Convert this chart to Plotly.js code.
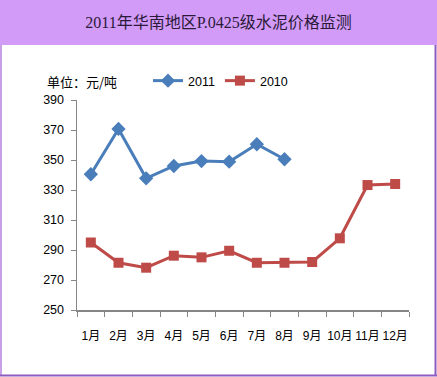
<!DOCTYPE html>
<html><head><meta charset="utf-8">
<script src="https://cdn.plot.ly/plotly-3.0.1.min.js"></script>
<style>html,body{margin:0;padding:0;background:#fff}#c{width:437px;height:377px}</style>
</head><body><div id="c"></div>
<script>
const months = ['1月','2月','3月','4月','5月','6月','7月','8月','9月','10月','11月','12月'];
const values2011 = [340.5, 370.7, 337.8, 346, 349.3, 348.9, 360.5, 350.5];
const values2010 = [295, 281.5, 278.2, 286.2, 285.1, 289.5, 281.5, 281.5, 282, 297.8, 333.3, 334];
const yTicks = [250, 270, 290, 310, 330, 350, 370, 390];

const W = 437, H = 377, L = 77, R = 28, T = 100, B = 67;
const pw = W - L - R, ph = H - T - B;
const px = x => (x - L) / pw;
const py = y => (H - B - y) / ph;

const traces = [
  {x: months.slice(0, values2011.length), y: values2011, name: '2011', type: 'scatter', mode: 'lines+markers',
   line: {color: '#4A7EBB', width: 3}, marker: {symbol: 'diamond', size: 11, color: '#4A7EBB'}},
  {x: months, y: values2010, name: '2010', type: 'scatter', mode: 'lines+markers',
   line: {color: '#BE4B48', width: 3}, marker: {symbol: 'square', size: 10, color: '#BE4B48'}}
];

const layout = {
  width: W, height: H,
  margin: {l: L, r: R, t: T, b: B},
  paper_bgcolor: '#fff', plot_bgcolor: 'rgba(0,0,0,0)',
  font: {family: 'Liberation Sans, Noto Sans CJK SC, sans-serif', size: 12, color: '#000'},
  title: {text: '2011年华南地区P.0425级水泥价格监测', x: 0.5, xref: 'container', xanchor: 'center',
          y: 1 - 22 / H, yref: 'container', yanchor: 'middle',
          font: {family: 'Liberation Serif, Noto Sans CJK SC, serif', size: 16, color: '#2b1a3a'}},
  xaxis: {type: 'category', categoryorder: 'array', categoryarray: months, range: [-0.5, 11.5],
          showline: true, linecolor: '#868686', linewidth: 1.5, ticks: 'outside', tickson: 'boundaries',
          ticklen: 5, tickcolor: '#868686', tickwidth: 1, showgrid: false, zeroline: false,
          tickangle: 0, automargin: false, ticklabelstandoff: 14,
          tickfont: {family: 'Liberation Sans, Noto Sans CJK SC, sans-serif', size: 12}},
  yaxis: {range: [250, 390], tickmode: 'array', tickvals: yTicks, ticktext: yTicks.map(String),
          showline: true, linecolor: '#868686', linewidth: 1.5, ticks: 'outside', ticklen: 5,
          tickcolor: '#868686', showgrid: false, zeroline: false, automargin: false, ticklabelstandoff: 4,
          tickfont: {family: 'Liberation Sans, sans-serif', size: 12.5}},
  showlegend: true,
  legend: {orientation: 'h', x: px(148), xanchor: 'left', y: py(81), yanchor: 'middle',
           font: {family: 'Liberation Sans, sans-serif', size: 12.5}, bgcolor: 'rgba(0,0,0,0)', itemwidth: 30},
  shapes: [
    {type: 'rect', xref: 'paper', yref: 'paper', x0: px(0), x1: px(W), y0: py(0), y1: py(45),
     fillcolor: '#D29BF8', line: {width: 0}, layer: 'below'},
    {type: 'line', xref: 'paper', yref: 'paper', x0: px(1), x1: px(1), y0: py(45), y1: py(376),
     line: {color: '#C8A0E8', width: 2}},
    {type: 'line', xref: 'paper', yref: 'paper', x0: px(435.5), x1: px(435.5), y0: py(45), y1: py(376),
     line: {color: '#8E5CC0', width: 2}},
    {type: 'line', xref: 'paper', yref: 'paper', x0: px(0), x1: px(437), y0: py(375.5), y1: py(375.5),
     line: {color: '#8E5CC0', width: 2}}
  ],
  annotations: [
    {text: '单位：元/吨', xref: 'paper', yref: 'paper', x: px(45), y: py(81), xanchor: 'left', yanchor: 'middle',
     showarrow: false, font: {family: 'Noto Sans CJK SC, sans-serif', size: 13, color: '#000'}}
  ]
};

Plotly.newPlot('c', traces, layout, {displayModeBar: false, staticPlot: true});
</script></body></html>
